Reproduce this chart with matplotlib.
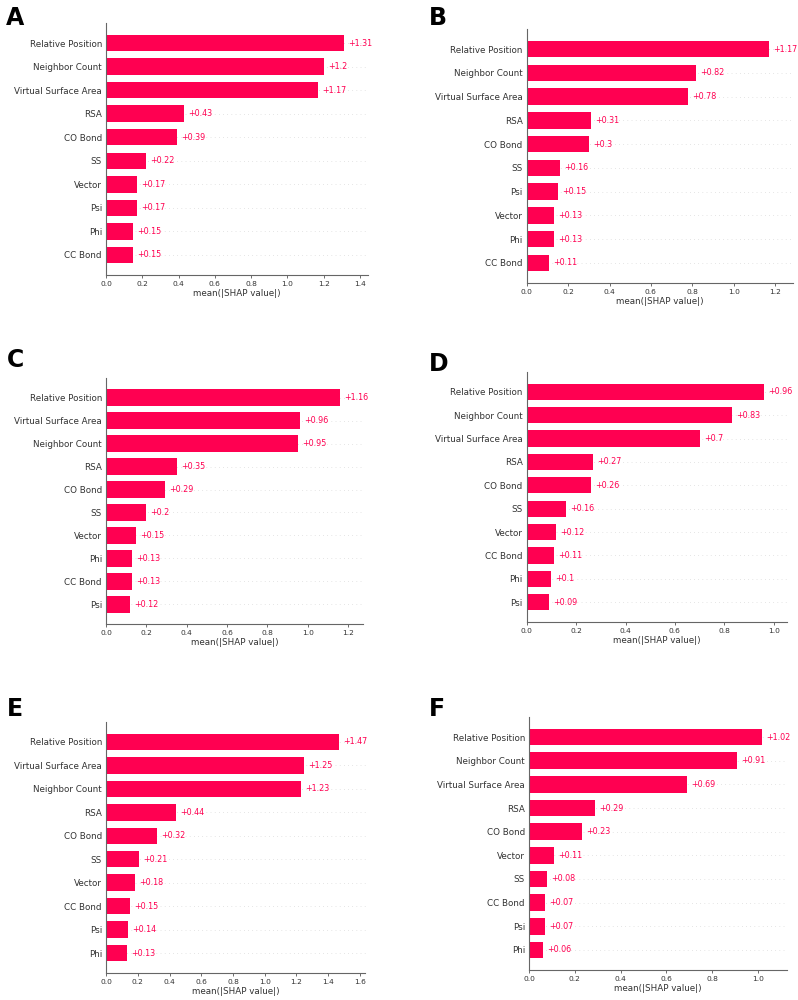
import matplotlib
matplotlib.use("Agg")
import matplotlib.pyplot as plt

# ---- data (mean |SHAP| per feature, top to bottom) ----
feat_a = ["Relative Position", "Neighbor Count", "Virtual Surface Area", "RSA", "CO Bond",
          "SS", "Vector", "Psi", "Phi", "CC Bond"]
vals_a = [1.31, 1.2, 1.17, 0.43, 0.39, 0.22, 0.17, 0.17, 0.15, 0.15]

feat_b = ["Relative Position", "Neighbor Count", "Virtual Surface Area", "RSA", "CO Bond",
          "SS", "Psi", "Vector", "Phi", "CC Bond"]
vals_b = [1.17, 0.82, 0.78, 0.31, 0.3, 0.16, 0.15, 0.13, 0.13, 0.11]

feat_c = ["Relative Position", "Virtual Surface Area", "Neighbor Count", "RSA", "CO Bond",
          "SS", "Vector", "Phi", "CC Bond", "Psi"]
vals_c = [1.16, 0.96, 0.95, 0.35, 0.29, 0.2, 0.15, 0.13, 0.13, 0.12]

feat_d = ["Relative Position", "Neighbor Count", "Virtual Surface Area", "RSA", "CO Bond",
          "SS", "Vector", "CC Bond", "Phi", "Psi"]
vals_d = [0.96, 0.83, 0.7, 0.27, 0.26, 0.16, 0.12, 0.11, 0.1, 0.09]

feat_e = ["Relative Position", "Virtual Surface Area", "Neighbor Count", "RSA", "CO Bond",
          "SS", "Vector", "CC Bond", "Psi", "Phi"]
vals_e = [1.47, 1.25, 1.23, 0.44, 0.32, 0.21, 0.18, 0.15, 0.14, 0.13]

feat_f = ["Relative Position", "Neighbor Count", "Virtual Surface Area", "RSA", "CO Bond",
          "Vector", "SS", "CC Bond", "Psi", "Phi"]
vals_f = [1.02, 0.91, 0.69, 0.29, 0.23, 0.11, 0.08, 0.07, 0.07, 0.06]

letters = ["A", "B", "C", "D", "E", "F"]
xmax = [1.444, 1.287, 1.274, 1.053, 1.63, 1.127]
xticks = [[0, 0.2, 0.4, 0.6, 0.8, 1.0, 1.2, 1.4],
          [0, 0.2, 0.4, 0.6, 0.8, 1.0, 1.2],
          [0, 0.2, 0.4, 0.6, 0.8, 1.0, 1.2],
          [0, 0.2, 0.4, 0.6, 0.8, 1.0],
          [0, 0.2, 0.4, 0.6, 0.8, 1.0, 1.2, 1.4, 1.6],
          [0, 0.2, 0.4, 0.6, 0.8, 1.0]]

# axes boxes [left, bottom, width, height] and letter positions (figure fractions)
boxes = [[0.133, 0.725, 0.328, 0.252],
         [0.660, 0.717, 0.334, 0.254],
         [0.133, 0.376, 0.322, 0.246],
         [0.660, 0.378, 0.326, 0.250],
         [0.133, 0.027, 0.324, 0.251],
         [0.663, 0.030, 0.323, 0.253]]
letter_pos = [(0.007, 0.994), (0.538, 0.994), (0.008, 0.652),
              (0.537, 0.648), (0.008, 0.303), (0.537, 0.303)]

RED = "#ff0051"

fig = plt.figure(figsize=(7.98, 10), dpi=100)

panels = [(feat_a, vals_a), (feat_b, vals_b), (feat_c, vals_c),
          (feat_d, vals_d), (feat_e, vals_e), (feat_f, vals_f)]

for i, (feats, vals) in enumerate(panels):
    ax = fig.add_axes(boxes[i])
    n = len(feats)
    ypos = list(range(n - 1, -1, -1))
    for y in ypos:
        ax.axhline(y, color="#cccccc", lw=0.5, dashes=(1, 5), zorder=-1, clip_on=False)
    ax.barh(ypos, vals, height=0.7, color=RED, zorder=2)
    for y, v in zip(ypos, vals):
        ax.annotate("+" + ("%g" % v), (v, y), xytext=(3, 0), textcoords="offset points",
                    va="center", ha="left", color=RED, fontsize=5.8, clip_on=False)
    ax.set_yticks(ypos)
    ax.set_yticklabels(feats, fontsize=6.3, color="#333333")
    ax.tick_params(axis="y", length=0, pad=3)
    ax.set_xticks(xticks[i])
    ax.set_xticklabels(["%.1f" % t for t in xticks[i]], fontsize=5.4, color="#333333")
    ax.tick_params(axis="x", length=2.5, width=0.6, color="#555555", pad=2)
    ax.set_xlim(0, xmax[i])
    ax.set_ylim(-0.85, n - 1 + 0.85)
    ax.set_xlabel("mean(|SHAP value|)", fontsize=6.3, color="#333333", labelpad=1.5)
    for s in ["top", "right"]:
        ax.spines[s].set_visible(False)
    for s in ["left", "bottom"]:
        ax.spines[s].set_color("#666666")
        ax.spines[s].set_linewidth(0.8)
    fig.text(letter_pos[i][0], letter_pos[i][1], letters[i], fontsize=17,
             fontweight="heavy", ha="left", va="top", color="black")

fig.savefig("out.png", dpi=100, facecolor="white")
